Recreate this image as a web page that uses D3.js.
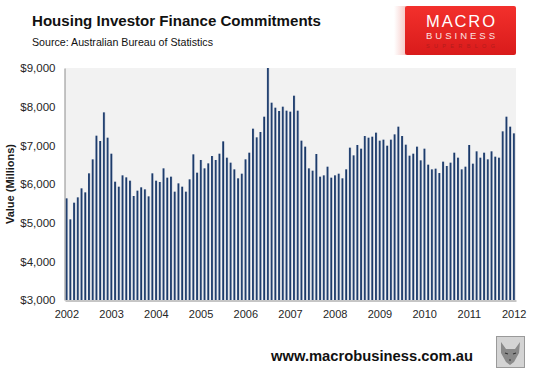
<!DOCTYPE html>
<html>
<head>
<meta charset="utf-8">
<script src="https://cdn.jsdelivr.net/npm/d3@7"></script>
<style>
  body { margin: 0; background: #fff; }
  svg { display: block; font-family: "Liberation Sans", Arial, sans-serif; }
</style>
</head>
<body>
<div class="chart"></div>
<script>
// monthly commitments, Jan 2002 - Jan 2012 ($ millions)
let months = d3.timeMonth.range(new Date(2002, 0, 1), new Date(2012, 1, 1))

let values = [
  5629, 5086, 5517, 5655, 5888, 5784, 6276, 6638, 7250, 7112, 7853, 7198,
  6784, 6060, 5931, 6224, 6172, 6086, 5690, 5828, 5914, 5862, 5681, 6276,
  6086, 6052, 6405, 6164, 6190, 5802, 6017, 5931, 5802, 6121, 6767, 6293,
  6621, 6405, 6534, 6724, 6621, 6784, 7103, 6681, 6552, 6379, 6147, 6267,
  6638, 6810, 7431, 7207, 7345, 7741, 9100, 8103, 7974, 7888, 8000, 7897,
  7871, 8284, 7897, 7121, 6966, 6405, 6345, 6776, 6190, 6224, 6448, 6164,
  6224, 6267, 6147, 6379, 6940, 6741, 7009, 6914, 7241, 7198, 7224, 7328,
  7121, 7147, 6991, 7147, 7284, 7483, 7241, 7017, 6733, 6784, 6966, 6612,
  6914, 6500, 6379, 6397, 6284, 6578, 6466, 6552, 6810, 6681, 6379, 6448,
  7009, 6526, 6845, 6681, 6810, 6638, 6845, 6707, 6681, 7362, 7741, 7483,
  7310
]

let yearLabels = ["2002", "2003", "2004", "2005", "2006", "2007", "2008", "2009", "2010", "2011", "2012"]
let yTicks = [3000, 4000, 5000, 6000, 7000, 8000, 9000]

let width = 536, height = 374
let plot = { left: 65, right: 516, top: 68, bottom: 300 }

let svg = d3.select("div.chart").append("svg")
  .attr("width", width)
  .attr("height", height)

let defs = svg.append("defs")

// bar shading: dark navy with a pale right edge
let barGrad = defs.append("linearGradient").attr("id", "barGrad")
  .attr("x1", "0%").attr("x2", "100%").attr("y1", "0%").attr("y2", "0%")
barGrad.append("stop").attr("offset", "0%").attr("stop-color", "#2b4b7c")
barGrad.append("stop").attr("offset", "55%").attr("stop-color", "#1b3866")
barGrad.append("stop").attr("offset", "78%").attr("stop-color", "#8697b3")
barGrad.append("stop").attr("offset", "100%").attr("stop-color", "#c9d0dc")

let logoGrad = defs.append("linearGradient").attr("id", "logoGrad")
  .attr("x1", "0%").attr("x2", "0%").attr("y1", "0%").attr("y2", "100%")
logoGrad.append("stop").attr("offset", "0%").attr("stop-color", "#f3302c")
logoGrad.append("stop").attr("offset", "100%").attr("stop-color", "#d91b1b")

let fadeGrad = defs.append("linearGradient").attr("id", "fadeGrad")
  .attr("x1", "0%").attr("x2", "100%").attr("y1", "0%").attr("y2", "0%")
fadeGrad.append("stop").attr("offset", "0%").attr("stop-color", "#ffffff")
fadeGrad.append("stop").attr("offset", "100%").attr("stop-color", "#f6c9c6")

defs.append("clipPath").attr("id", "plotClip")
  .append("rect")
  .attr("x", plot.left).attr("y", plot.top)
  .attr("width", plot.right - plot.left).attr("height", plot.bottom - plot.top)

// scales
let x = d3.scaleBand()
  .domain(months)
  .range([plot.left, plot.right])
  .paddingInner(0.34)
  .paddingOuter(0.17)

let y = d3.scaleLinear()
  .domain([3000, 9000])
  .range([plot.bottom, plot.top])

// plot background
svg.append("rect")
  .attr("x", plot.left).attr("y", plot.top)
  .attr("width", plot.right - plot.left).attr("height", plot.bottom - plot.top)
  .attr("fill", "#f2f2f2")

// bars
svg.append("g")
  .attr("clip-path", "url(#plotClip)")
  .selectAll("rect")
  .data(values)
  .enter()
  .append("rect")
  .attr("x", (d, i) => x(months[i]))
  .attr("width", x.bandwidth())
  .attr("y", d => y(d))
  .attr("height", d => y(3000) - y(d))
  .attr("fill", "url(#barGrad)")

// y axis
let yAxis = svg.append("g")
  .attr("transform", `translate(${plot.left - 0.5},0)`)
  .call(d3.axisLeft(y).tickValues(yTicks).tickFormat(d3.format("$,.0f")).tickSize(0).tickPadding(9))
yAxis.select(".domain").attr("stroke", "#8c8c8c")
yAxis.selectAll("text")
  .attr("font-size", "11.5px")
  .attr("fill", "#262626")
  .attr("font-family", "Liberation Sans, Arial, sans-serif")

// x axis: one label per January
let jan = months.filter(m => m.getMonth() === 0)
let xAxis = svg.append("g")
  .attr("transform", `translate(0,${plot.bottom + 0.5})`)
  .call(d3.axisBottom(x).tickValues(jan).tickFormat((d, i) => yearLabels[i]).tickSize(0).tickPadding(10))
xAxis.select(".domain").attr("stroke", "#8c8c8c")
xAxis.selectAll("text")
  .attr("font-size", "11px")
  .attr("fill", "#262626")
  .attr("font-family", "Liberation Sans, Arial, sans-serif")

// y axis title
svg.append("text")
  .attr("transform", "translate(14,184) rotate(-90)")
  .attr("text-anchor", "middle")
  .attr("font-size", "11px")
  .attr("font-weight", "bold")
  .attr("fill", "#1a1a1a")
  .text("Value (Millions)")

// titles
svg.append("text")
  .attr("x", 32).attr("y", 26)
  .attr("font-size", "15px")
  .attr("font-weight", "bold")
  .attr("fill", "#111")
  .attr("textLength", 289)
  .attr("lengthAdjust", "spacingAndGlyphs")
  .text("Housing Investor Finance Commitments")

svg.append("text")
  .attr("x", 32).attr("y", 46)
  .attr("font-size", "11.5px")
  .attr("fill", "#111")
  .attr("textLength", 181)
  .attr("lengthAdjust", "spacingAndGlyphs")
  .text("Source: Australian Bureau of Statistics")

// logo box
svg.append("rect")
  .attr("x", 394).attr("y", 6).attr("width", 12).attr("height", 49)
  .attr("fill", "url(#fadeGrad)")
svg.append("rect")
  .attr("x", 405).attr("y", 6).attr("width", 111).attr("height", 49)
  .attr("rx", 2)
  .attr("fill", "url(#logoGrad)")

let logoText = [
  { t: "MACRO", y: 27, size: 16.5, color: "#ffffff" },
  { t: "BUSINESS", y: 38.5, size: 9.5, color: "#fbe3e3" },
  { t: "SUPERBLOG", y: 47.5, size: 5.5, color: "#b41c1c" }
]
svg.selectAll("text.logo")
  .data(logoText)
  .enter()
  .append("text")
  .attr("class", "logo")
  .attr("x", 426)
  .attr("y", d => d.y)
  .attr("font-size", d => d.size + "px")
  .attr("fill", d => d.color)
  .attr("textLength", 69)
  .attr("lengthAdjust", "spacing")
  .text(d => d.t)

// footer
svg.append("text")
  .attr("x", 271).attr("y", 361)
  .attr("font-size", "15px")
  .attr("font-weight", "bold")
  .attr("fill", "#111")
  .attr("textLength", 202)
  .attr("lengthAdjust", "spacingAndGlyphs")
  .text("www.macrobusiness.com.au")

// little fox badge
let fox = svg.append("g").attr("transform", "translate(496,336)")
fox.append("rect")
  .attr("x", 0.5).attr("y", 0.5).attr("width", 28).attr("height", 31)
  .attr("fill", "#d4d4d4").attr("stroke", "#9a9a9a")
fox.append("path")
  .attr("d", "M5,6 L10,13 L19,13 L24,6 L23,17 L18,26 L14,29 L10,26 L5,17 Z")
  .attr("fill", "#8a8a8a")
fox.append("path")
  .attr("d", "M9,17 L12,18 M17,18 L20,17 M13,24 L15,24")
  .attr("stroke", "#333").attr("stroke-width", 1.2)
</script>
</body>
</html>
